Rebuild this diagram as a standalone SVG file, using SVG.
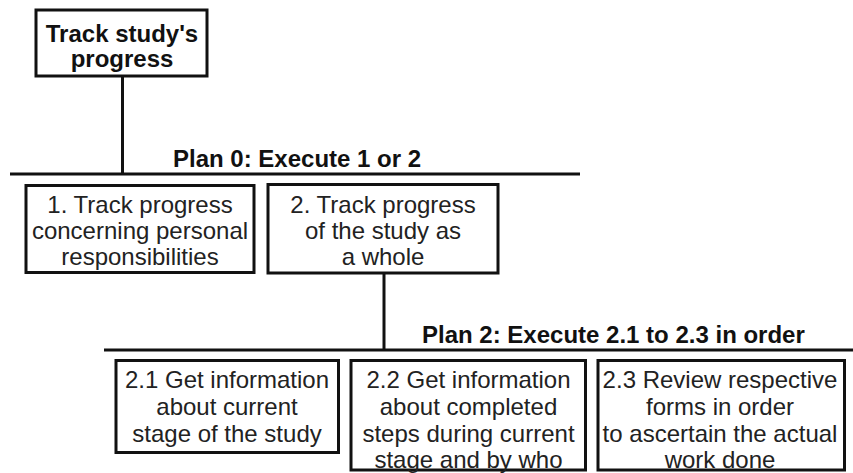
<svg xmlns="http://www.w3.org/2000/svg" width="853" height="473" viewBox="0 0 853 473">
  <style>
    .box { fill: #ffffff; stroke: #111111; stroke-width: 3; }
    .wire { stroke: #111111; stroke-width: 3; fill: none; }
    .label { font-family: "Liberation Sans", Arial, sans-serif; font-size: 24px; fill: #222222; text-anchor: middle; }
    .title { font-family: "Liberation Sans", Arial, sans-serif; font-size: 24px; font-weight: bold; fill: #111111; text-anchor: middle; }
    .plan { font-family: "Liberation Sans", Arial, sans-serif; font-size: 24px; font-weight: bold; fill: #111111; }
  </style>
  <rect width="853" height="473" fill="#ffffff"/>

  <!-- connectors and plan bars -->
  <g id="connectors">
    <line class="wire" x1="122.5" y1="76" x2="122.5" y2="174"/>
    <line class="wire" x1="10" y1="174" x2="580" y2="174"/>
    <line class="wire" x1="384" y1="273" x2="384" y2="350"/>
    <line class="wire" x1="104" y1="350" x2="853" y2="350"/>
  </g>

  <g id="plan0">
    <text class="plan" x="173" y="167">Plan 0: Execute 1 or 2</text>
  </g>
  <g id="plan2">
    <text class="plan" x="422" y="343">Plan 2: Execute 2.1 to 2.3 in order</text>
  </g>

  <g id="root">
    <rect class="box" x="36" y="10" width="171" height="66"/>
    <text class="title" x="122" y="42">Track study's</text>
    <text class="title" x="122" y="67">progress</text>
  </g>

  <g id="task1">
    <rect class="box" x="26" y="185.5" width="228" height="87"/>
    <text class="label" x="140" y="213">1. Track progress</text>
    <text class="label" x="140" y="239">concerning personal</text>
    <text class="label" x="140" y="265">responsibilities</text>
  </g>

  <g id="task2">
    <rect class="box" x="268" y="184.5" width="230" height="88.5"/>
    <text class="label" x="383" y="213">2. Track progress</text>
    <text class="label" x="383" y="239">of the study as</text>
    <text class="label" x="383" y="265">a whole</text>
  </g>

  <g id="task2-1">
    <rect class="box" x="116" y="360.5" width="222.5" height="92"/>
    <text class="label" x="227" y="388">2.1 Get information</text>
    <text class="label" x="227" y="415">about current</text>
    <text class="label" x="227" y="442">stage of the study</text>
  </g>

  <g id="task2-2">
    <rect class="box" x="351" y="360.5" width="234.5" height="109.5"/>
    <text class="label" x="468.5" y="388">2.2 Get information</text>
    <text class="label" x="468.5" y="415">about completed</text>
    <text class="label" x="468.5" y="442">steps during current</text>
    <text class="label" x="468.5" y="468">stage and by who</text>
  </g>

  <g id="task2-3">
    <rect class="box" x="598" y="360.5" width="246.5" height="109.5"/>
    <text class="label" x="720" y="388">2.3 Review respective</text>
    <text class="label" x="720" y="415">forms in order</text>
    <text class="label" x="720" y="442">to ascertain the actual</text>
    <text class="label" x="720" y="468">work done</text>
  </g>
</svg>
